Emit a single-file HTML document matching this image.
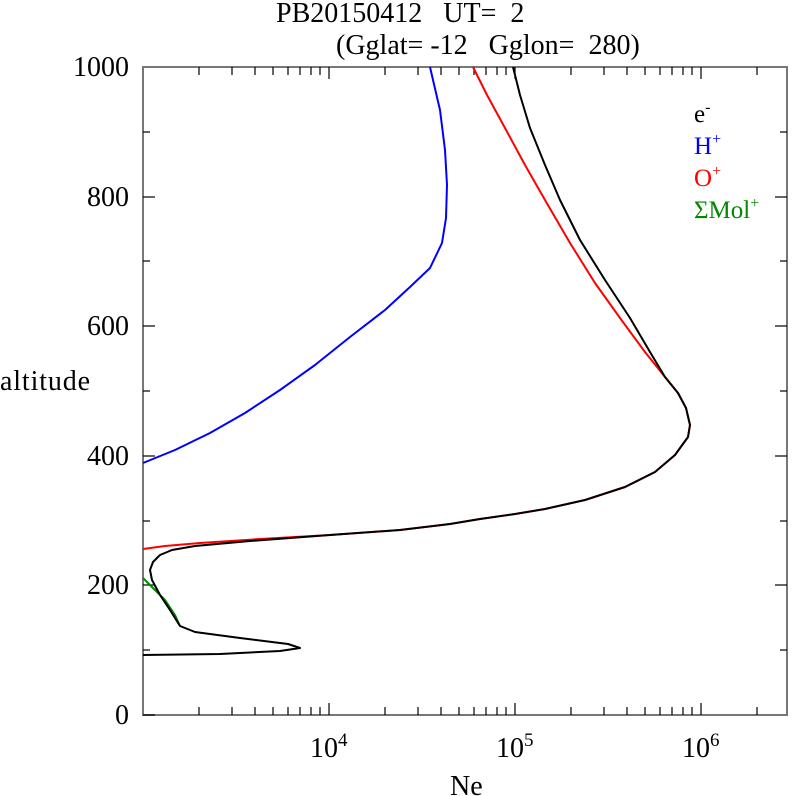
<!DOCTYPE html>
<html><head><style>body{margin:0;background:#fff}svg{display:block}text{font-family:"Liberation Serif",serif;fill:#000}</style></head><body>
<svg width="792" height="796" viewBox="0 0 792 796" xmlns="http://www.w3.org/2000/svg">
<g stroke="#777" stroke-width="2" fill="none">
<rect x="143" y="67" width="644" height="648"/>
</g>
<g stroke="#000" stroke-width="1.2">
<line x1="143" y1="715" x2="155" y2="715"/><line x1="143" y1="650" x2="150" y2="650"/>
<line x1="143" y1="585" x2="155" y2="585"/><line x1="143" y1="521" x2="150" y2="521"/>
<line x1="143" y1="456" x2="155" y2="456"/><line x1="143" y1="391" x2="150" y2="391"/>
<line x1="143" y1="326" x2="155" y2="326"/><line x1="143" y1="261" x2="150" y2="261"/>
<line x1="143" y1="197" x2="155" y2="197"/><line x1="143" y1="132" x2="150" y2="132"/>
<line x1="787" y1="650" x2="780" y2="650"/><line x1="787" y1="585" x2="775" y2="585"/>
<line x1="787" y1="521" x2="780" y2="521"/><line x1="787" y1="456" x2="775" y2="456"/>
<line x1="787" y1="391" x2="780" y2="391"/><line x1="787" y1="326" x2="775" y2="326"/>
<line x1="787" y1="261" x2="780" y2="261"/><line x1="787" y1="197" x2="775" y2="197"/>
<line x1="787" y1="132" x2="780" y2="132"/>
</g>
<g id="xt" stroke="#000" stroke-width="1.2">
<line x1="199" y1="715" x2="199" y2="707"/><line x1="232" y1="715" x2="232" y2="707"/><line x1="255" y1="715" x2="255" y2="707"/><line x1="273" y1="715" x2="273" y2="707"/><line x1="288" y1="715" x2="288" y2="707"/><line x1="300" y1="715" x2="300" y2="707"/><line x1="311" y1="715" x2="311" y2="707"/><line x1="320" y1="715" x2="320" y2="707"/><line x1="329" y1="715" x2="329" y2="703"/>
<line x1="385" y1="715" x2="385" y2="707"/><line x1="418" y1="715" x2="418" y2="707"/><line x1="441" y1="715" x2="441" y2="707"/><line x1="459" y1="715" x2="459" y2="707"/><line x1="474" y1="715" x2="474" y2="707"/><line x1="486" y1="715" x2="486" y2="707"/><line x1="497" y1="715" x2="497" y2="707"/><line x1="506" y1="715" x2="506" y2="707"/><line x1="515" y1="715" x2="515" y2="703"/>
<line x1="571" y1="715" x2="571" y2="707"/><line x1="604" y1="715" x2="604" y2="707"/><line x1="627" y1="715" x2="627" y2="707"/><line x1="645" y1="715" x2="645" y2="707"/><line x1="660" y1="715" x2="660" y2="707"/><line x1="672" y1="715" x2="672" y2="707"/><line x1="683" y1="715" x2="683" y2="707"/><line x1="692" y1="715" x2="692" y2="707"/><line x1="701" y1="715" x2="701" y2="703"/>
<line x1="757" y1="715" x2="757" y2="707"/>
</g>
<use href="#xt" transform="translate(0,782) scale(1,-1)"/>
<g font-size="28" text-anchor="end">
<text x="129" y="724">0</text><text x="129" y="594">200</text><text x="129" y="465">400</text><text x="129" y="335">600</text><text x="129" y="206">800</text><text x="129" y="76">1000</text>
</g>
<g font-size="28">
<text x="310" y="757">10<tspan font-size="19" dy="-11">4</tspan></text>
<text x="496" y="757">10<tspan font-size="19" dy="-11">5</tspan></text>
<text x="682" y="757">10<tspan font-size="19" dy="-11">6</tspan></text>
<text x="450" y="795">Ne</text>
<text x="0" y="390" textLength="90">altitude</text>
<text x="276" y="22" xml:space="preserve">PB20150412   UT=  2</text>
<text x="336" y="54" xml:space="preserve">(Gglat= -12   Gglon=  280)</text>
</g>
<g font-size="25">
<text x="694" y="122">e<tspan font-size="16" dy="-10">-</tspan></text>
<text x="694" y="154" style="fill:#00f">H<tspan font-size="16" dy="-10">+</tspan></text>
<text x="694" y="186" style="fill:#f00">O<tspan font-size="16" dy="-10">+</tspan></text>
<text x="694" y="218" style="fill:#080">ΣMol<tspan font-size="16" dy="-10">+</tspan></text>
</g>
<g fill="none" stroke-width="2" stroke-linejoin="round">
<polyline stroke="#00f" points="143,463 175,450 210,433 245,413 280,390 315,365 350,337 385,310 410,287 430,268 442,243 446,218 447,185 445,150 440,110 433,80 430,67"/>
<polyline stroke="#080" points="143,578 155,590 165,600 175,615 180,626"/>
<polyline stroke="#f00" points="143,549 165,546 200,543 260,539 330,535 400,530 450,524 480,519 515,514 545,509 585,500 625,487 655,472 675,455 688,437 690,425 686,408 678,393 665,377 645,352 620,318 595,283 570,243 545,200 525,165 505,128 487,95 473,67"/>
<polyline stroke="#000" points="143,655 220,654 280,651 300,648 288,644 240,638 195,632 180,626 170,610 160,595 152,580 150,570 153,562 160,555 172,550 195,546 250,541 330,535 400,530 450,524 480,519 515,514 545,509 585,500 625,487 655,472 675,455 688,437 690,425 686,408 678,393 665,377 650,352 630,318 605,280 580,240 560,200 545,165 530,128 520,95 513,67"/>
</g>
</svg>
</body></html>
